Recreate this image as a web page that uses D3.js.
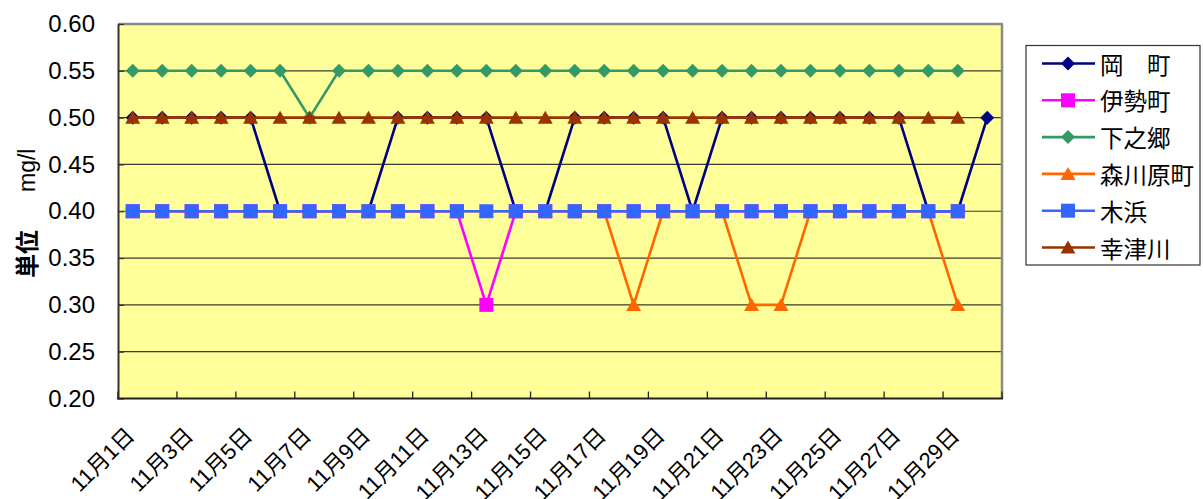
<!DOCTYPE html>
<html><head><meta charset="utf-8">
<script src="https://cdn.jsdelivr.net/npm/d3@7/dist/d3.min.js"></script>
<style>
html,body{margin:0;padding:0;background:#fff;}
svg{display:block;font-family:"Liberation Sans",Arial,"Noto Sans CJK JP",sans-serif;}
</style></head>
<body><svg id="c" width="1203" height="499"></svg>
<script>
const days = ["11月1日","11月2日","11月3日","11月4日","11月5日","11月6日","11月7日","11月8日","11月9日","11月10日",
"11月11日","11月12日","11月13日","11月14日","11月15日","11月16日","11月17日","11月18日","11月19日","11月20日",
"11月21日","11月22日","11月23日","11月24日","11月25日","11月26日","11月27日","11月28日","11月29日","11月30日"];
const okamachi   = [0.50,0.50,0.50,0.50,0.50,0.40,0.40,0.40,0.40,0.50,0.50,0.50,0.50,0.40,0.40,0.50,0.50,0.50,0.50,0.40,0.50,0.50,0.50,0.50,0.50,0.50,0.50,0.40,0.40,0.50];
const isecho     = [0.40,0.40,0.40,0.40,0.40,0.40,0.40,0.40,0.40,0.40,0.40,0.40,0.30,0.40,0.40,0.40,0.40,0.40,0.40,0.40,0.40,0.40,0.40,0.40,0.40,0.40,0.40,0.40,0.40,null];
const shimonogo  = [0.55,0.55,0.55,0.55,0.55,0.55,0.50,0.55,0.55,0.55,0.55,0.55,0.55,0.55,0.55,0.55,0.55,0.55,0.55,0.55,0.55,0.55,0.55,0.55,0.55,0.55,0.55,0.55,0.55,null];
const morikawara = [0.40,0.40,0.40,0.40,0.40,0.40,0.40,0.40,0.40,0.40,0.40,0.40,0.40,0.40,0.40,0.40,0.40,0.30,0.40,0.40,0.40,0.30,0.30,0.40,0.40,0.40,0.40,0.40,0.30,null];
const kihama     = [0.40,0.40,0.40,0.40,0.40,0.40,0.40,0.40,0.40,0.40,0.40,0.40,0.40,0.40,0.40,0.40,0.40,0.40,0.40,0.40,0.40,0.40,0.40,0.40,0.40,0.40,0.40,0.40,0.40,null];
const kozugawa   = [0.50,0.50,0.50,0.50,0.50,0.50,0.50,0.50,0.50,0.50,0.50,0.50,0.50,0.50,0.50,0.50,0.50,0.50,0.50,0.50,0.50,0.50,0.50,0.50,0.50,0.50,0.50,0.50,0.50,null];
const seriesNames = ["岡　町","伊勢町","下之郷","森川原町","木浜","幸津川"];
const yTicks = [0.20,0.25,0.30,0.35,0.40,0.45,0.50,0.55,0.60];
const xLabelDays = days.filter((d,i)=>i%2===0);

const series = [
  {name:seriesNames[0], values:okamachi,   color:"#000080", marker:"diamond"},
  {name:seriesNames[1], values:isecho,     color:"#FF00FF", marker:"square"},
  {name:seriesNames[2], values:shimonogo,  color:"#339966", marker:"diamond"},
  {name:seriesNames[3], values:morikawara, color:"#FF6600", marker:"triangle"},
  {name:seriesNames[4], values:kihama,     color:"#3366FF", marker:"square"},
  {name:seriesNames[5], values:kozugawa,   color:"#993300", marker:"triangle"}
];

const svg = d3.select("#c");
const L=118, R=1002, T=24, B=398.5;
const x = d3.scaleBand().domain(days).range([L,R]).paddingInner(0).paddingOuter(0);
const cx = d => x(d) + x.bandwidth()/2;
const y = d3.scaleLinear().domain([0.2,0.6]).range([B,T]);

function markerPath(type){
  if(type==="diamond") return "M0,-7L7,0L0,7L-7,0Z";
  if(type==="square") return "M-7,-7H7V7H-7Z";
  return "M0,-7L7.5,6L-7.5,6Z";
}

// plot background
svg.append("rect").attr("x",L).attr("y",T).attr("width",R-L).attr("height",B-T).attr("fill","#FFFF99");

// gridlines
svg.append("g").selectAll("line").data(yTicks.filter(v=>v>0.2&&v<0.6)).join("line")
  .attr("x1",L).attr("x2",R).attr("y1",d=>y(d)).attr("y2",d=>y(d))
  .attr("stroke","#3a3a30").attr("stroke-width",1.2);

// borders
svg.append("line").attr("x1",L).attr("x2",R+1).attr("y1",T).attr("y2",T).attr("stroke","#8a8a8a").attr("stroke-width",2.5);
svg.append("line").attr("x1",R).attr("x2",R).attr("y1",T).attr("y2",B).attr("stroke","#8a8a8a").attr("stroke-width",2.5);

// y axis
const yAxis = svg.append("g").attr("transform",`translate(${L},0)`)
  .call(d3.axisLeft(y).tickValues(yTicks).tickFormat(d3.format(".2f")).tickSizeInner(-6).tickSizeOuter(0).tickPadding(23));
yAxis.select(".domain").attr("stroke","#333").attr("stroke-width",2);
yAxis.selectAll(".tick line").attr("stroke","#333").attr("stroke-width",1.2);
yAxis.selectAll(".tick text").attr("font-size",24).attr("fill","#000")
  .attr("font-family",'"Liberation Sans",Arial,sans-serif');

// x axis bottom line and ticks at every 2 categories
svg.append("line").attr("x1",L-1).attr("x2",R+1).attr("y1",B).attr("y2",B).attr("stroke","#222").attr("stroke-width",2);
const tickXs = days.filter((d,i)=>i%2===0).map(d=>x(d)).concat([x.range()[1]]);
svg.append("g").selectAll("line").data(tickXs).join("line")
  .attr("x1",d=>d).attr("x2",d=>d).attr("y1",B).attr("y2",B-7)
  .attr("stroke","#222").attr("stroke-width",1.3);

// x labels
svg.append("g").selectAll("text").data(xLabelDays).join("text")
  .attr("transform",d=>`translate(${cx(d)+3},437) rotate(-45)`)
  .attr("text-anchor","end").attr("font-size",22).attr("fill","#000")
  .text(d=>d);

// y title
const yt = svg.append("text").attr("transform","translate(27,0) rotate(-90)")
  .attr("dominant-baseline","central").attr("fill","#000");
yt.append("tspan").attr("x",-278).attr("font-size",24).attr("font-weight","bold").text("単位");
yt.append("tspan").attr("x",-192).attr("font-size",23).text("mg/l");

// series lines and markers
const line = d3.line().defined(d=>d.v!=null).x(d=>cx(d.day)).y(d=>y(d.v));
series.forEach(s=>{
  const pts = s.values.map((v,i)=>({day:days[i], v}));
  const g = svg.append("g");
  g.append("path").datum(pts).attr("d",line).attr("fill","none")
    .attr("stroke",s.color).attr("stroke-width",2.6).attr("stroke-linejoin","round");
  g.selectAll("path.m").data(pts.filter(p=>p.v!=null)).join("path").attr("class","m")
    .attr("d",markerPath(s.marker)).attr("transform",p=>`translate(${cx(p.day)},${y(p.v)})`)
    .attr("fill",s.color);
});

// legend
const lg = svg.append("g");
lg.append("rect").attr("x",1026).attr("y",45.5).attr("width",174).attr("height",219.5)
  .attr("fill","#fff").attr("stroke","#333").attr("stroke-width",1.2);
const ly = d3.scalePoint().domain(seriesNames).range([63.5,247.5]);
series.forEach(s=>{
  const yy = ly(s.name);
  lg.append("line").attr("x1",1042).attr("x2",1095).attr("y1",yy).attr("y2",yy)
    .attr("stroke",s.color).attr("stroke-width",2.6);
  lg.append("path").attr("d",markerPath(s.marker)).attr("transform",`translate(1068,${yy})`).attr("fill",s.color);
  lg.append("text").attr("x",1100).attr("y",yy).attr("dominant-baseline","central")
    .attr("font-size",23.5).attr("fill","#000").attr("font-family",'"Noto Sans CJK JP",sans-serif').text(s.name);
});
</script></body></html>
